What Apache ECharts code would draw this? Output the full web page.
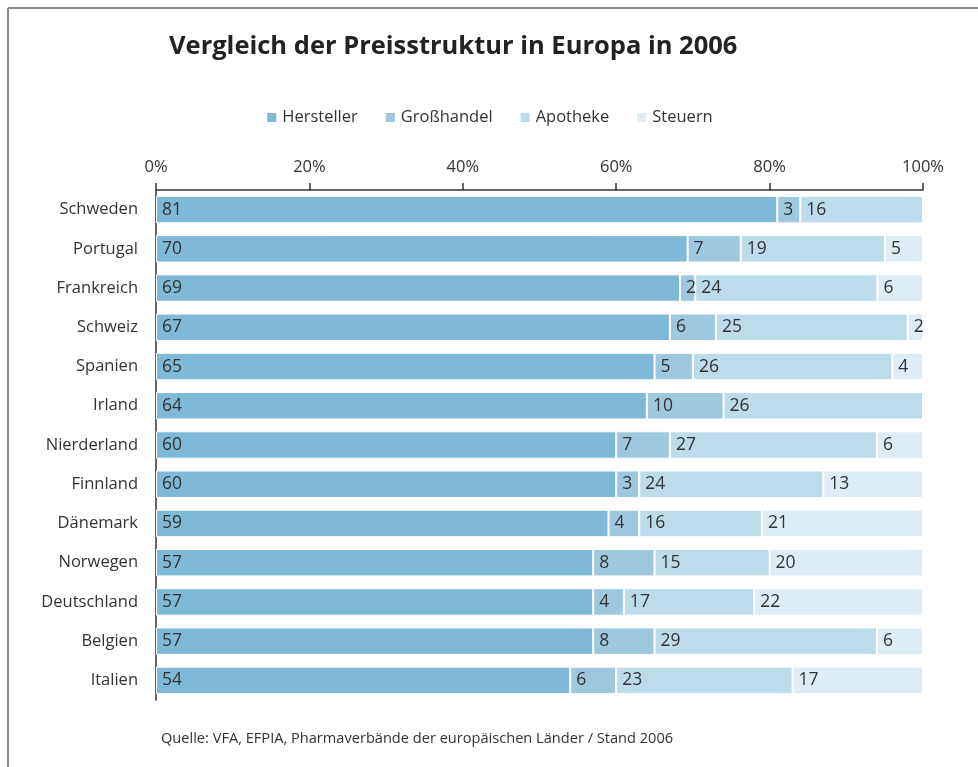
<!DOCTYPE html>
<html>
<head>
    <meta charset="utf-8">
    <title>Vergleich der Preisstruktur</title>
    <script type="text/javascript" src="https://cdn.jsdelivr.net/npm/echarts@6/dist/echarts.min.js"></script>
    <style>
        body { margin: 0; background: #fff; }
    </style>
</head>
<body>
<div id="main" style="width: 978px;height:767px;"></div>
<script type="text/javascript">
    // Daten
    var laender = ['Schweden', 'Portugal', 'Frankreich', 'Schweiz', 'Spanien', 'Irland', 'Nierderland',
        'Finnland', 'Dänemark', 'Norwegen', 'Deutschland', 'Belgien', 'Italien'];
    var hersteller = [81, 70, 69, 67, 65, 64, 60, 60, 59, 57, 57, 57, 54];
    var grosshandel = [3, 7, 2, 6, 5, 10, 7, 3, 4, 8, 4, 8, 6];
    var apotheke = [16, 19, 24, 25, 26, 26, 27, 24, 16, 15, 17, 29, 23];
    var steuern = [0, 5, 6, 2, 4, 0, 6, 13, 21, 20, 22, 6, 17];
    var achsenLabels = ['0%', '20%', '40%', '60%', '80%', '100%'];

    var namen = ['Hersteller', 'Großhandel', 'Apotheke', 'Steuern'];
    var farben = ['#80b8d7', '#9dc8df', '#bcdcec', '#deedf5'];
    var werte = [hersteller, grosshandel, apotheke, steuern];

    // Summen je Land (manche Zeilen ergeben 101)
    var summen = laender.map(function (l, i) {
        return hersteller[i] + grosshandel[i] + apotheke[i] + steuern[i];
    });

    var myChart = echarts.init(document.getElementById('main'));

    var series = namen.map(function (name, k) {
        return {
            name: name,
            type: 'bar',
            stack: 'gesamt',
            barCategoryGap: '30%',
            itemStyle: { color: farben[k], borderColor: '#fff', borderWidth: 1 },
            label: {
                show: true,
                position: 'insideLeft',
                distance: 6,
                color: '#333',
                fontSize: 17.5,
                fontFamily: 'Open Sans',
                formatter: function (p) { return p.data.raw; }
            },
            data: werte[k].map(function (v, i) {
                return v > 0 ? { value: v / summen[i] * 100, raw: v } : { value: 0, raw: '', label: { show: false } };
            })
        };
    });

    var option = {
        animation: false,
        textStyle: { fontFamily: 'Open Sans' },
        title: {
            text: 'Vergleich der Preisstruktur in Europa in 2006',
            left: 164,
            top: 29,
            textStyle: { fontSize: 25.5, fontWeight: 'bold', color: '#222', fontFamily: 'Open Sans' }
        },
        legend: {
            data: namen,
            top: 104,
            left: 'center',
            icon: 'rect',
            itemWidth: 11,
            itemHeight: 11,
            itemGap: 26,
            textStyle: { fontSize: 16.5, color: '#333' }
        },
        grid: { left: 156, right: 55, top: 190, bottom: 67 },
        xAxis: {
            type: 'value',
            position: 'top',
            min: 0,
            max: 100,
            interval: 20,
            axisLine: { show: true, lineStyle: { color: '#333', width: 1.5 } },
            axisTick: { show: true, inside: false, length: 7, lineStyle: { color: '#333', width: 1.5 } },
            splitLine: { show: false },
            axisLabel: {
                fontSize: 16.5,
                color: '#333',
                margin: 14,
                formatter: function (v) { return achsenLabels[v / 20]; }
            }
        },
        yAxis: {
            type: 'category',
            inverse: true,
            data: laender,
            axisLine: { show: true, lineStyle: { color: '#333', width: 1.5 } },
            axisTick: { show: false },
            axisLabel: { fontSize: 16.5, color: '#333', margin: 18 }
        },
        graphic: [
            { type: 'line', shape: { x1: 8, y1: 8, x2: 978, y2: 8 }, style: { stroke: '#888', lineWidth: 2 } },
            { type: 'line', shape: { x1: 8, y1: 8, x2: 8, y2: 767 }, style: { stroke: '#888', lineWidth: 2 } },
            {
                type: 'text', left: 161, top: 731,
                style: {
                    text: 'Quelle: VFA, EFPIA, Pharmaverbände der europäischen Länder / Stand 2006',
                    fontSize: 14.6, fill: '#333', fontFamily: 'Open Sans'
                }
            }
        ],
        series: series
    };

    myChart.setOption(option);
</script>
</body>
</html>
